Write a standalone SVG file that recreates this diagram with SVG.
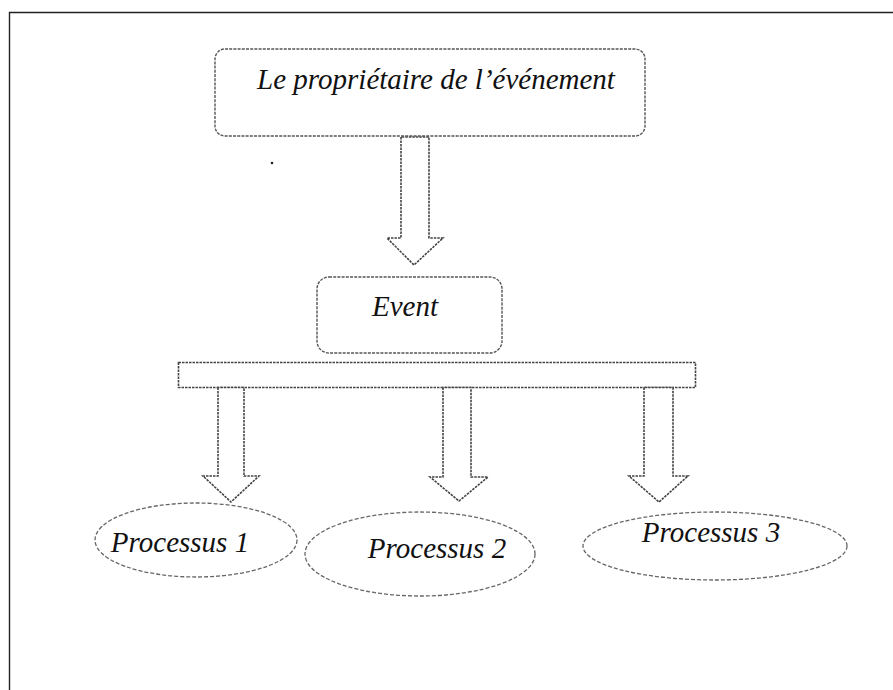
<svg xmlns="http://www.w3.org/2000/svg" width="893" height="690" viewBox="0 0 893 690">
  <defs>
    <style>
      .frame { fill: none; stroke: #222; stroke-width: 1.4; }
      .box { fill: #fff; stroke: #555; stroke-width: 1.4; stroke-dasharray: 3 1.2; }
      .arrow { fill: #fff; stroke: #444; stroke-width: 1.6; stroke-dasharray: 2.5 1; stroke-linejoin: miter; }
      .oval { fill: #fff; stroke: #666; stroke-width: 1.3; stroke-dasharray: 4 2; }
      .label { font-family: "Liberation Serif", "Times New Roman", serif; font-style: italic; font-size: 29px; fill: #111; }
    </style>
  </defs>

  <rect width="893" height="690" fill="#fff"/>

  <!-- page frame (top and left edges) -->
  <path class="frame" d="M9.5 690 V12.5 H893"/>

  <!-- connectors -->
  <g id="connectors">
    <path class="arrow" d="M401 137 V238 H387 L414 265 L443 238 H429 V137 Z"/>
    <rect class="arrow" x="178.5" y="362.5" width="517" height="25"/>
    <path class="arrow" d="M218 387.5 V476 H203 L231 502 L259 476 H244 V387.5 Z"/>
    <path class="arrow" d="M443 387.5 V477 H430 L459 501 L488 477 H471 V387.5 Z"/>
    <path class="arrow" d="M644 387.5 V476 H629 L659 502 L688 476 H673 V387.5 Z"/>
  </g>

  <!-- event owner -->
  <g id="owner">
    <rect class="box" x="215" y="49" width="430" height="87" rx="10"/>
    <text class="label" x="436" y="89" text-anchor="middle" font-size="30">Le propriétaire de l’événement</text>
  </g>

  <!-- event -->
  <g id="event">
    <rect class="box" x="317" y="277" width="185" height="76" rx="12"/>
    <text class="label" x="405" y="316" text-anchor="middle">Event</text>
  </g>

  <!-- processes -->
  <g id="process1">
    <ellipse class="oval" cx="196" cy="540" rx="101" ry="37"/>
    <text class="label" x="180" y="552" text-anchor="middle" font-size="28">Processus 1</text>
  </g>
  <g id="process2">
    <ellipse class="oval" cx="420" cy="554" rx="115" ry="42"/>
    <text class="label" x="437" y="558" text-anchor="middle">Processus 2</text>
  </g>
  <g id="process3">
    <ellipse class="oval" cx="715" cy="546" rx="132" ry="34"/>
    <text class="label" x="711" y="542" text-anchor="middle">Processus 3</text>
  </g>

  <circle cx="272" cy="163" r="1.3" fill="#222"/>
</svg>
